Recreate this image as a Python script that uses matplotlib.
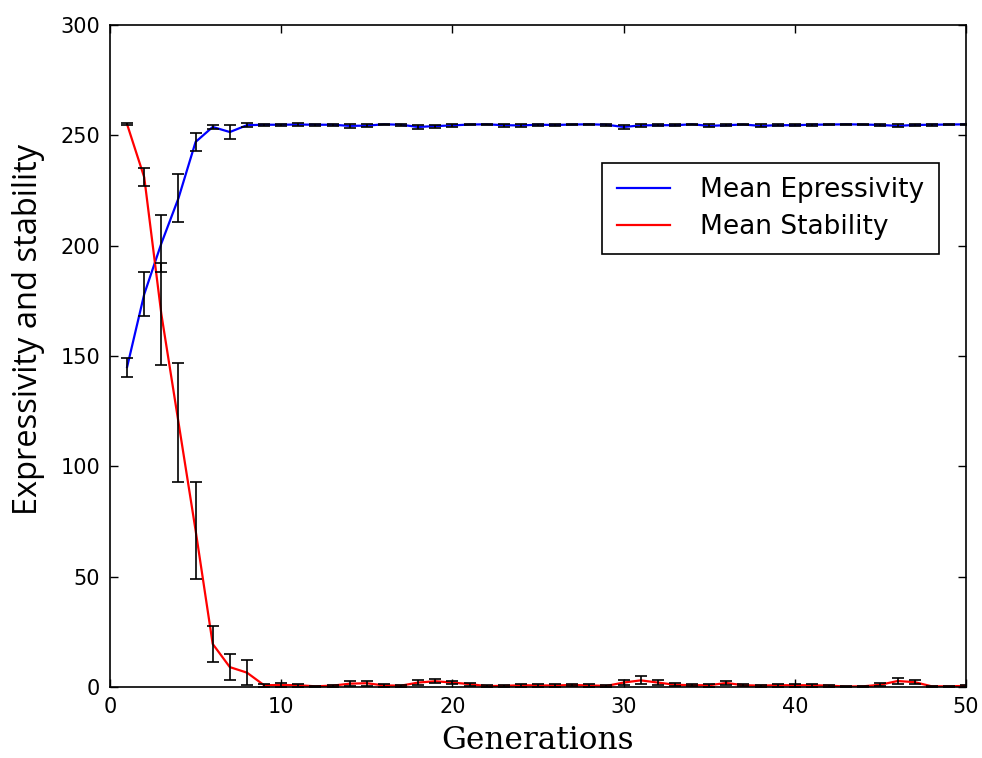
import numpy as np
import matplotlib.pyplot as plt

# Mean expressivity / stability per generation with error bars
generations = list(range(1, 51))

expr_mean = [145.0, 178.0, 201.0, 221.5, 247.0, 253.8, 251.5, 254.6, 254.8, 254.8,
             254.9, 254.8, 254.8, 254.3, 254.4, 255.0, 254.8, 253.8, 254.2, 254.5,
             254.9, 255.0, 254.6, 254.5, 254.8, 254.7, 254.9, 255.0, 254.8, 253.8,
             254.5, 254.6, 254.6, 255.0, 254.3, 254.6, 254.9, 254.3, 254.6, 254.6,
             254.8, 254.9, 255.0, 254.9, 254.7, 254.3, 254.7, 254.8, 254.9, 255.0]
expr_err = [4.3, 10.0, 13.0, 11.0, 4.0, 1.0, 3.0, 0.8, 0.5, 0.5,
            0.5, 0.5, 0.5, 0.8, 0.7, 0.3, 0.5, 0.9, 0.7, 0.6,
            0.4, 0.3, 0.6, 0.6, 0.5, 0.5, 0.4, 0.3, 0.5, 1.0,
            0.6, 0.5, 0.5, 0.3, 0.7, 0.5, 0.4, 0.7, 0.5, 0.5,
            0.4, 0.4, 0.3, 0.4, 0.5, 0.7, 0.5, 0.5, 0.4, 0.3]

stab_mean = [255.0, 231.0, 169.0, 120.0, 71.0, 19.5, 9.0, 6.5, 0.8, 0.9,
             0.8, 0.3, 0.6, 1.5, 1.7, 0.7, 0.6, 2.0, 2.6, 2.0,
             1.3, 0.4, 0.5, 0.8, 0.7, 0.7, 0.9, 0.7, 0.5, 2.0,
             3.0, 2.0, 1.0, 0.8, 0.8, 1.8, 0.8, 0.6, 0.8, 0.8,
             0.8, 0.6, 0.2, 0.3, 1.0, 2.7, 2.2, 0.3, 0.3, 0.5]
stab_err = [0.5, 4.0, 23.0, 27.0, 22.0, 8.0, 6.0, 5.5, 0.6, 0.8,
            0.6, 0.3, 0.5, 1.0, 1.2, 0.5, 0.5, 1.0, 1.0, 0.8,
            0.7, 0.3, 0.4, 0.6, 0.5, 0.5, 0.6, 0.5, 0.4, 1.2,
            1.8, 1.2, 0.7, 0.5, 0.6, 0.9, 0.5, 0.4, 0.6, 0.6,
            0.6, 0.4, 0.2, 0.3, 0.7, 1.2, 1.0, 0.3, 0.3, 0.4]

fig = plt.figure(figsize=(9.82, 7.58), dpi=100)
ax = fig.add_axes([0.112, 0.0937, 0.8717, 0.8733])

ax.plot(generations, expr_mean, color='blue', lw=1.6, label='Mean Epressivity')
ax.plot(generations, stab_mean, color='red', lw=1.6, label='Mean Stability')
ax.errorbar(generations, expr_mean, yerr=expr_err, fmt='none', ecolor='black',
            elinewidth=1.2, capsize=4, capthick=1.2, zorder=3)
ax.errorbar(generations, stab_mean, yerr=stab_err, fmt='none', ecolor='black',
            elinewidth=1.2, capsize=4, capthick=1.2, zorder=3)

ax.set_xlim(0, 50)
ax.set_ylim(0, 300)
ax.set_xticks(np.arange(0, 51, 10))
ax.set_yticks(np.arange(0, 301, 50))
ax.tick_params(direction='in', length=6, width=1, top=True, right=True,
               labelsize=15, pad=7)
for sp in ax.spines.values():
    sp.set_linewidth(1.2)

ax.set_xlabel('Generations', family='DejaVu Serif', fontsize=22.5, labelpad=6)
ax.set_ylabel('Expressivity and stability', family='Open Sans', fontsize=23.5)
ax.yaxis.set_label_coords(-0.076, 0.54)

leg = ax.legend(loc='upper right', bbox_to_anchor=(0.968, 0.792), fontsize=19,
                fancybox=False, edgecolor='black', framealpha=1,
                handlelength=2.0, handletextpad=1.15, borderpad=0.55,
                labelspacing=0.4, borderaxespad=0)
leg.get_frame().set_linewidth(1.2)

fig.savefig('out.png', dpi=100, facecolor='white')
